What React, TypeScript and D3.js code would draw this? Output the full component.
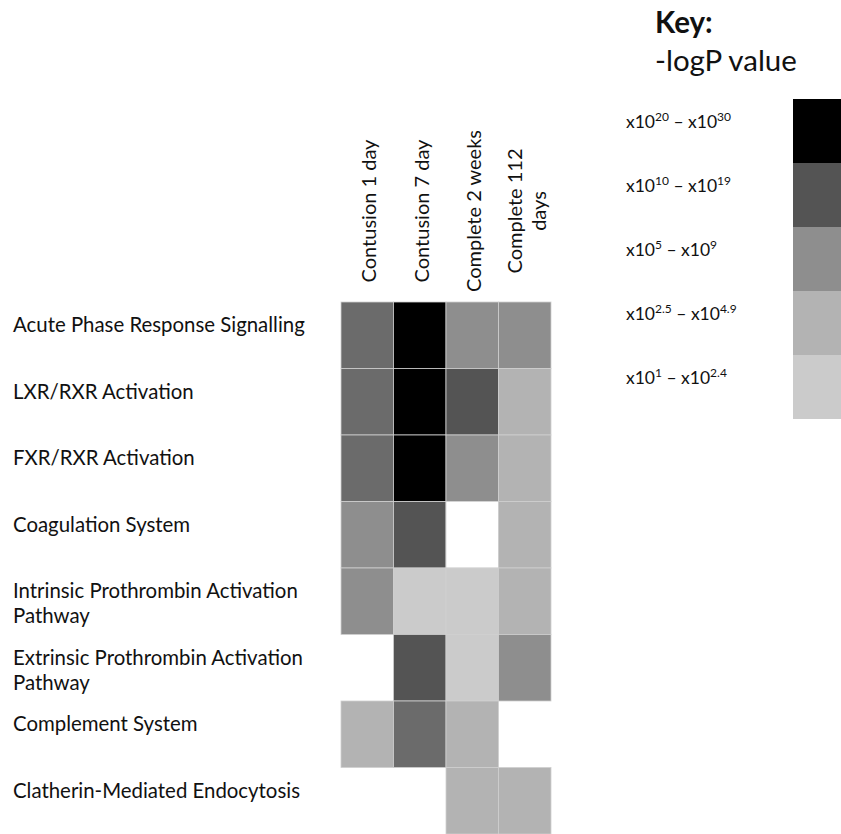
import React from "react";
import * as d3 from "d3";

const columns: string[][] = [
  ["Contusion 1 day"],
  ["Contusion 7 day"],
  ["Complete 2 weeks"],
  ["Complete 112", "days"],
];

const pathways: string[][] = [
  ["Acute Phase Response Signalling"],
  ["LXR/RXR Activation"],
  ["FXR/RXR Activation"],
  ["Coagulation System"],
  ["Intrinsic Prothrombin Activation", "Pathway"],
  ["Extrinsic Prothrombin Activation", "Pathway"],
  ["Complement System"],
  ["Clatherin-Mediated Endocytosis"],
];

// significance level per cell (-1 = no cell drawn, 0 = white cell)
const contusion1Day = [4, 4, 4, 3, 3, -1, 2, -1];
const contusion7Day = [6, 6, 6, 5, 1, 5, 4, -1];
const complete2Weeks = [3, 5, 3, 0, 1, 1, 2, 2];
const complete112Days = [3, 2, 2, 2, 2, 3, -1, 2];
const seriesValues = [contusion1Day, contusion7Day, complete2Weeks, complete112Days];

const levelColors = ["#ffffff", "#cbcbcb", "#b3b3b3", "#8e8e8e", "#6b6b6b", "#545454", "#000000"];

const keyLevels = [6, 5, 3, 2, 1];
const keyLabels: [string, string, string, string][] = [
  ["x10", "20", " \u2013 x10", "30"],
  ["x10", "10", " \u2013 x10", "19"],
  ["x10", "5", " \u2013 x10", "9"],
  ["x10", "2.5", " \u2013 x10", "4.9"],
  ["x10", "1", " \u2013 x10", "2.4"],
];

const FONT = "Lato, 'Open Sans', sans-serif";

export default function App() {
  const x = d3.scaleBand<number>().domain(d3.range(columns.length)).range([341, 551]);
  const y = d3.scaleBand<number>().domain(d3.range(pathways.length)).range([302, 834]);
  const ky = d3.scaleBand<number>().domain(d3.range(keyLevels.length)).range([99, 419]);
  const color = d3.scaleOrdinal<number, string>().domain(d3.range(levelColors.length)).range(levelColors);

  const cells: { c: number; r: number; v: number }[] = [];
  seriesValues.forEach((vals, c) =>
    vals.forEach((v, r) => {
      if (v >= 0) cells.push({ c, r, v });
    })
  );

  return (
    <svg
      width={841}
      height={834}
      style={{ position: "absolute", left: 0, top: 0, background: "#fff" }}
      fontFamily={FONT}
    >
      <rect x={0} y={0} width={841} height={834} fill="#fff" />
      {cells.map((d, i) => (
        <rect
          key={i}
          x={x(d.c)!}
          y={y(d.r)!}
          width={x.bandwidth()}
          height={y.bandwidth()}
          fill={color(d.v)}
          stroke="#cfcfcf"
          strokeWidth={0.8}
        />
      ))}
      {pathways.map((lines, r) => (
        <text key={r} x={13} y={y(r)! + 30} fontSize={20.4} fill="#111">
          {lines.map((l, i) => (
            <tspan key={i} x={13} dy={i === 0 ? 0 : 25}>
              {l}
            </tspan>
          ))}
        </text>
      ))}
      {columns.map((lines, c) => {
        const cx = x(c)! + x.bandwidth() / 2;
        const n = lines.length;
        return lines.map((l, i) => {
          const bx = cx + 9 + (i - (n - 1) / 2) * 24;
          return (
            <text
              key={c + "-" + i}
              transform={`translate(${bx},211) rotate(-90)`}
              textAnchor="middle"
              fontSize={20}
              fill="#111"
            >
              {l}
            </text>
          );
        });
      })}
      <text x={655} y={33} fontSize={29.5} fontWeight="bold" fill="#111">
        Key:
      </text>
      <text x={655} y={71} fontSize={29.5} fill="#111">
        -logP value
      </text>
      {keyLevels.map((lv, i) => (
        <rect key={"k" + i} x={793} y={ky(i)!} width={60} height={ky.bandwidth()} fill={color(lv)} />
      ))}
      {keyLabels.map((parts, i) => (
        <text key={"kl" + i} x={626} y={ky(i)! + 29} fontSize={17.5} fill="#111">
          <tspan>{parts[0]}</tspan>
          <tspan fontSize={12} dy={-7}>{parts[1]}</tspan>
          <tspan dy={7}>{parts[2]}</tspan>
          <tspan fontSize={12} dy={-7}>{parts[3]}</tspan>
        </text>
      ))}
    </svg>
  );
}
